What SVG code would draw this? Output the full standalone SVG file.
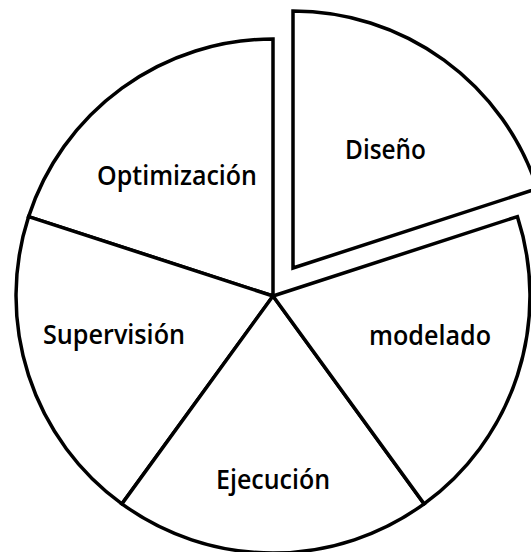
<svg xmlns="http://www.w3.org/2000/svg" width="531" height="552" viewBox="0 0 531 552">
<style>
.s{fill:#fff;stroke:#000;stroke-width:3.5;stroke-linejoin:miter}
.t{font-family:"Open Sans",Lato,sans-serif;font-weight:600;font-size:27.5px;fill:#000}
</style>
<rect width="531" height="552" fill="#fff"/>
<g id="optimizacion">
<path class="s" d="M273,296 L273,39 A257,257 0 0 0 28.6,216.6 Z"/>
<text class="t" x="97" y="185" textLength="160" lengthAdjust="spacingAndGlyphs">Optimización</text>
</g>
<g id="supervision">
<path class="s" d="M273,296 L28.6,216.6 A257,257 0 0 0 121.9,503.9 Z"/>
<text class="t" x="43" y="344" textLength="142" lengthAdjust="spacingAndGlyphs">Supervisión</text>
</g>
<g id="ejecucion">
<path class="s" d="M273,296 L121.9,503.9 A257,257 0 0 0 424.1,503.9 Z"/>
<text class="t" x="216" y="489" textLength="114" lengthAdjust="spacingAndGlyphs">Ejecución</text>
</g>
<g id="modelado">
<path class="s" d="M273,296 L424.1,503.9 A257,257 0 0 0 517.4,216.6 Z"/>
<text class="t" x="369" y="345" textLength="122" lengthAdjust="spacingAndGlyphs">modelado</text>
</g>
<g id="diseno">
<path class="s" d="M293,268 L293,11 A257,257 0 0 1 537.4,188.6 Z"/>
<text class="t" x="345" y="159" textLength="81" lengthAdjust="spacingAndGlyphs">Diseño</text>
</g>
</svg>
